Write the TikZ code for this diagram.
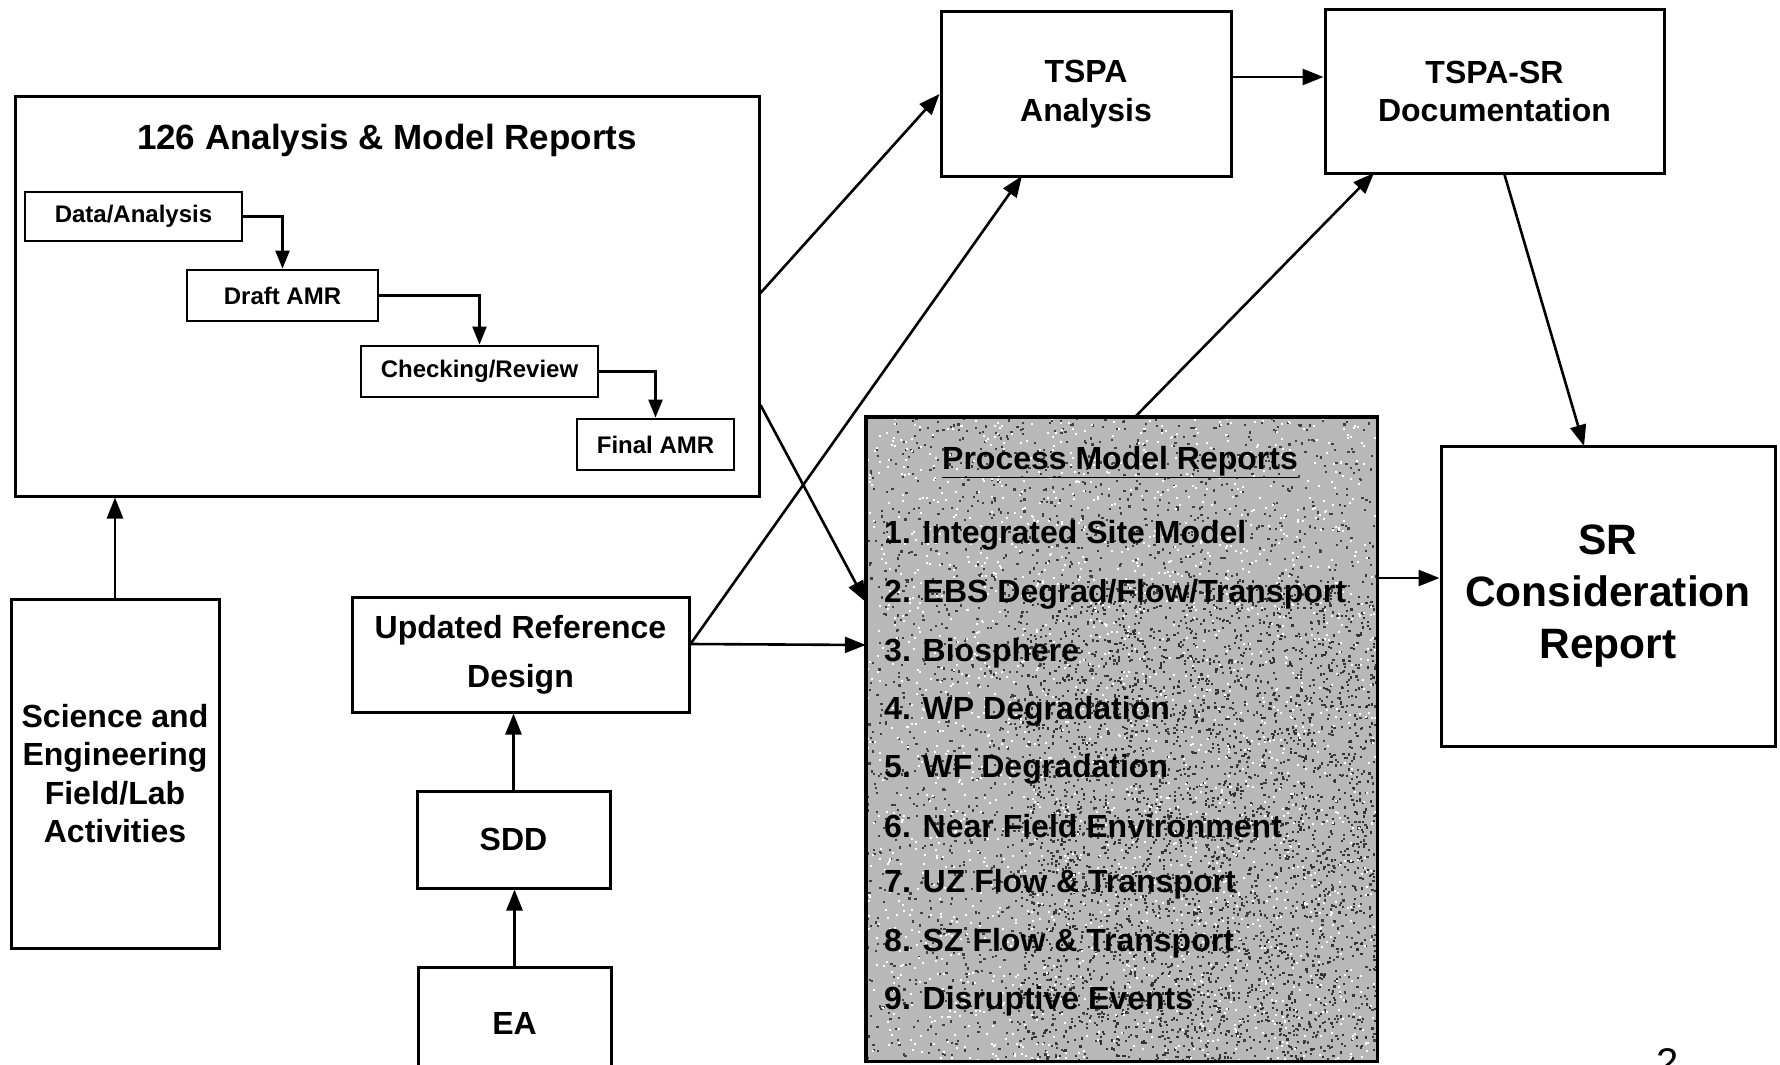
\documentclass[tikz,border=0pt]{standalone}
\usepackage{fontspec}
\setmainfont{Liberation Sans}
\usetikzlibrary{arrows.meta,calc}
\newcommand\myfs[2]{\fontsize{#1}{#2}\selectfont}
\begin{document}
\begin{tikzpicture}[x=1pt,y=-1pt,
  box/.style={draw,line width=3pt,inner sep=0pt,align=center,font=\bfseries},
  sbox/.style={box,line width=2.8pt,font=\bfseries\myfs{24}{28}},
  arr/.style={line width=2.6pt,-{Triangle[length=21pt,width=16pt]}},
  sarr/.style={line width=2.3pt,-{Triangle[length=18pt,width=14pt]}},
  item/.style={anchor=west,inner sep=0pt,font=\bfseries\myfs{32}{38}}]
\useasboundingbox (0,0) rectangle (1780,1065);
\fill[white] (0,0) rectangle (1780,1065);
\clip (0,0) rectangle (1780,1065);

% big AMR box
\node[box,minimum width=744pt,minimum height=400pt] (amr) at (387,296) {};
\node[inner sep=0pt,font=\bfseries\myfs{35}{40}] (amrtitle) at (387,140) {126 Analysis \& Model Reports};
\node[sbox,minimum width=217pt,minimum height=49pt] (data) at (133.5,216.5) {Data/Analysis};
\node[sbox,minimum width=191pt,minimum height=51pt] (draft) at (282.5,295.5) {Draft AMR};
\node[sbox,minimum width=237pt,minimum height=51pt] (check) at (479.5,371.5) {Checking/Review};
\node[sbox,minimum width=157pt,minimum height=51pt] (final) at (655.5,444.5) {Final AMR};
\draw[sarr] (data.east) -| (draft.north);
\draw[sarr] (draft.east) -| (check.north);
\draw[sarr] (check.east) -| (final.north);

% left column
\node[box,minimum width=208pt,minimum height=349pt,font=\bfseries\myfs{32}{38.6}] (sci) at (115,773.5) {Science and\\Engineering\\Field/Lab\\Activities};
\draw[arr] (sci.north) -- (sci.north |- amr.south);

% design column
\node[box,minimum width=337pt,minimum height=115pt,font=\bfseries\myfs{32}{49}] (urd) at (520.5,654.5) {Updated Reference\\Design};
\node[box,minimum width=193pt,minimum height=97pt,font=\bfseries\myfs{32}{38}] (sdd) at (513.5,839.5) {SDD};
\node[box,minimum width=193pt,minimum height=113pt,font=\bfseries\myfs{32}{38}] (ea) at (514.5,1023.5) {EA};
\draw[arr] (sdd.north) -- (sdd.north |- urd.south);
\draw[arr] (ea.north) -- (ea.north |- sdd.south);

% TSPA boxes
\node[box,minimum width=290pt,minimum height=164pt,font=\bfseries\myfs{32}{39}] (tspa) at (1086,94) {TSPA\\Analysis};
\node[box,minimum width=339pt,minimum height=163pt,font=\bfseries\myfs{32}{38}] (tsr) at (1494.5,91.5) {TSPA-SR\\Documentation};

% Process model reports (speckled grey)
\node[fill=black!28,minimum width=511pt,minimum height=644pt,inner sep=0pt] (pmr) at (1121.5,739) {};
\begin{scope}
\clip (pmr.south west) rectangle (pmr.north east);
\pgfmathsetseed{7}
\foreach \i in {1,...,2600}{
  \pgfmathsetmacro\rx{866+511*rnd}
  \pgfmathsetmacro\ry{417+644*rnd}
  \fill[black!75] (\rx,\ry) rectangle ++(2.2,2.2);
}
\foreach \i in {1,...,2600}{
  \pgfmathsetmacro\rx{1020+357*rnd}
  \pgfmathsetmacro\ry{580+481*rnd}
  \fill[black!80] (\rx,\ry) rectangle ++(2.2,2.2);
}
\foreach \i in {1,...,2000}{
  \pgfmathsetmacro\rx{866+511*rnd}
  \pgfmathsetmacro\ry{417+644*rnd}
  \fill[white] (\rx,\ry) rectangle ++(2,2);
}
\end{scope}
\draw[line width=3.4pt] (pmr.south west) rectangle (pmr.north east);
\node[inner sep=0pt,font=\bfseries\myfs{32}{38}] (pmrtitle) at (1120,462) {\underline{Process Model Reports}};
\node[item] (p1) at (884,535) {1. Integrated Site Model};
\node[item] (p2) at (884,594) {2. EBS Degrad/Flow/Transport};
\node[item] (p3) at (884,653) {3. Biosphere};
\node[item] (p4) at (884,711) {4. WP Degradation};
\node[item] (p5) at (884,769) {5. WF Degradation};
\node[item] (p6) at (884,826) {6. Near Field Environment};
\node[item] (p7) at (884,884) {7. UZ Flow \& Transport};
\node[item] (p8) at (884,943) {8. SZ Flow \& Transport};
\node[item] (p9) at (884,1001) {9. Disruptive Events};

% SR consideration report
\node[box,minimum width=334pt,minimum height=300pt,font=\bfseries\myfs{42.5}{52}] (sr) at (1608,596) {SR\\Consideration\\Report};

% page number
\node[anchor=base,inner sep=0pt,font=\myfs{40}{44}] (pg) at (1668,1076) {2};

% helper coordinates
\coordinate (a1) at (amr.east |- 0,293);
\coordinate (a2) at (amr.east |- 0,405);
\coordinate (pin1) at (pmr.west |- 0,602);
\coordinate (pin2) at (pmr.west |- 0,645);
\coordinate (u1) at (urd.east |- 0,644);
\coordinate (tb) at (1022,176);
\coordinate (pt) at (1135,417);
\coordinate (sb) at (1374,173);
\coordinate (t1) at (tspa.east |- 0,77);
\coordinate (t2) at (tsr.west |- 0,77);
\coordinate (s1) at (1504,173);
\coordinate (s2) at (1584,446);
\coordinate (r1) at (pmr.east |- 0,578);
\coordinate (r2) at (sr.west |- 0,578);

\draw[arr] (a1) -- (tspa.west);
\draw[arr] (a2) -- (pin1);
\draw[arr] (u1) -- (tb);
\draw[arr] (u1) -- (pin2);
\draw[arr] (pt) -- (sb);
\draw[arr] (t1) -- (t2);
\draw[arr] (s1) -- (s2);
\draw[arr] (r1) -- (r2);
\end{tikzpicture}
\end{document}
